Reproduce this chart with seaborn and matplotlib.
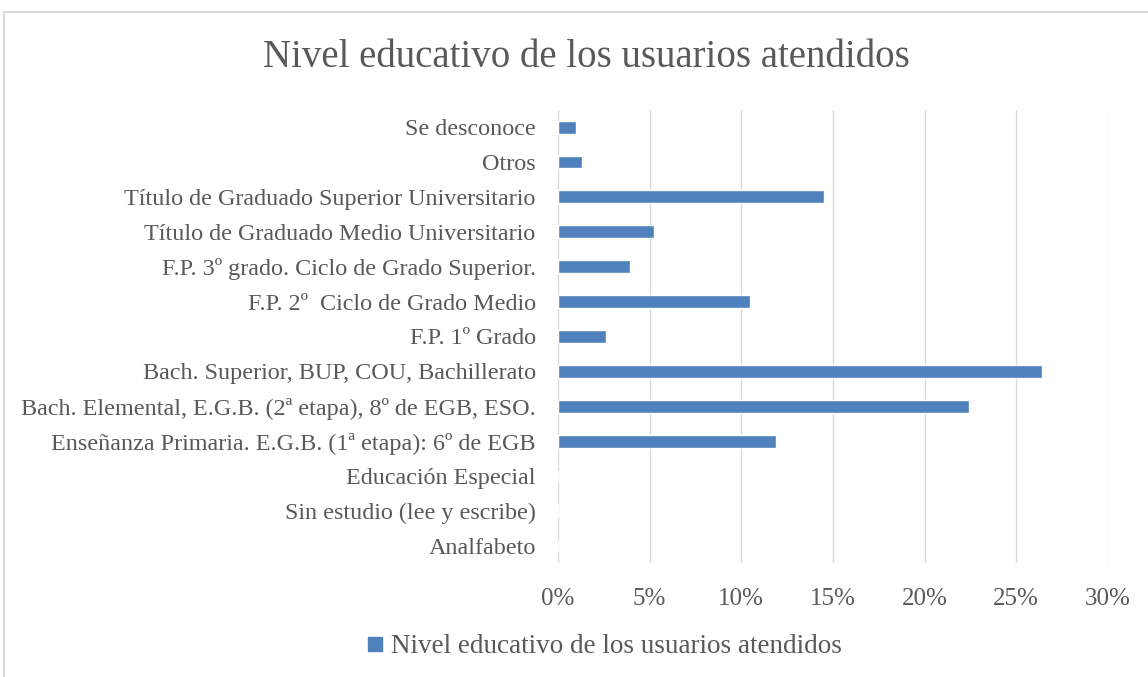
import numpy as np
import pandas as pd
import seaborn as sns
import matplotlib.pyplot as plt
from matplotlib.lines import Line2D

categories = [
    "Se desconoce",
    "Otros",
    "Título de Graduado Superior Universitario",
    "Título de Graduado Medio Universitario",
    "F.P. 3º grado. Ciclo de Grado Superior.",
    "F.P. 2º  Ciclo de Grado Medio",
    "F.P. 1º Grado",
    "Bach. Superior, BUP, COU, Bachillerato",
    "Bach. Elemental, E.G.B. (2ª etapa), 8º de EGB, ESO.",
    "Enseñanza Primaria. E.G.B. (1ª etapa): 6º de EGB",
    "Educación Especial",
    "Sin estudio (lee y escribe)",
    "Analfabeto",
]
values = [1.0, 1.3, 14.5, 5.25, 3.95, 10.5, 2.6, 26.4, 22.4, 11.9, 0, 0, 0]
series_name = "Nivel educativo de los usuarios atendidos"
xticks = [0, 5, 10, 15, 20, 25, 30]

df = pd.DataFrame({"cat": categories, "val": values})

sns.set_theme(style="white")
plt.rcParams['font.family'] = ['Liberation Serif', 'DejaVu Serif']
text_col = "#595959"

fig = plt.figure(figsize=(11.48, 6.77), dpi=100)
ax = fig.add_axes([0.486, 0.168, 0.479, 0.670])

sns.barplot(data=df, x="val", y="cat", orient="h", color="#4f81bd",
            saturation=1, width=0.37, ax=ax)

ax.set_xlim(0, 30)
ax.set_xticks(xticks)
ax.set_xticklabels([f"{t}%" for t in xticks])
ax.set_xlabel("")
ax.set_ylabel("")
ax.grid(axis="x", color="#d9d9d9", lw=1.0)
ax.set_axisbelow(True)
for s in ax.spines.values():
    s.set_visible(False)
ax.tick_params(axis="x", length=0, pad=18, labelsize=18, labelcolor=text_col)
ax.tick_params(axis="y", length=0, pad=16, labelsize=17.4, labelcolor=text_col)

fig.text(0.511, 0.915, series_name, ha="center", va="center",
         fontsize=28, color=text_col)

handle = [Line2D([0], [0], marker="s", color="none", markerfacecolor="#4f81bd",
                 markeredgecolor="#4f81bd", markersize=10)]
fig.legend(handle, [series_name], loc="center", bbox_to_anchor=(0.525, 0.045),
           frameon=False, fontsize=19.5, labelcolor=text_col,
           handlelength=0.8, handletextpad=0.2)

# light frame around chart area
fig.add_artist(Line2D([0.0035, 0.0035], [0, 0.982], color="#d9d9d9", lw=1.5,
                      transform=fig.transFigure))
fig.add_artist(Line2D([0.0035, 1], [0.982, 0.982], color="#d9d9d9", lw=1.5,
                      transform=fig.transFigure))

fig.savefig("out.png", dpi=100)
